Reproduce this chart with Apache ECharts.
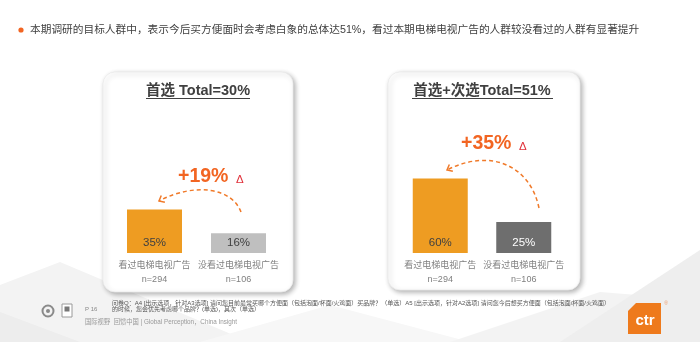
<!DOCTYPE html>
<html>
<head>
<meta charset="utf-8">
<script src="https://cdn.jsdelivr.net/npm/echarts@6/dist/echarts.min.js"></script>
<style>
html,body{margin:0;padding:0;background:#fff;}
#c{width:700px;height:342px;}
</style>
</head>
<body>
<div id="c"></div>
<script>
// ---- data ----
var categories = ['看过电梯电视广告', '没看过电梯电视广告'];
var sampleSizes = [294, 106];
var firstChoice = [35, 16];          // 首选
var firstSecondChoice = [60, 25];    // 首选+次选
var panelTitles = ['首选 Total=30%', '首选+次选Total=51%'];
var headline = '本期调研的目标人群中，表示今后买方便面时会考虑白象的总体达51%，看过本期电梯电视广告的人群较没看过的人群有显著提升';
var footnote1 = '问卷Q：A4 [出示选项，针对A3选项] 请问您目前最常买哪个方便面（包括泡面/杯面/火鸡面）买品牌？（单选）A5 [出示选项，针对A2选项] 请问您今后想买方便面（包括泡面/杯面/火鸡面）';
var footnote2 = '的时候，您会优先考虑哪个品牌？(单选)，其次（单选）';
var footnote3 = '国际视野  回馈中国 | Global Perception，China Insight';
var pageNo = 'P 16';

// ---- styles ----
var FONT = '"Liberation Sans", Arial, "Noto Sans CJK SC", sans-serif';
var ORANGE = '#EE9C22';
var barColors = [[ORANGE, '#BFBFBF'], [ORANGE, '#6E6E6E']];
var labelColors = [['#404040', '#404040'], ['#404040', '#ffffff']];

var chart = echarts.init(document.getElementById('c'), null, {renderer: 'canvas'});

function makeData(vals, p) {
  return vals.map(function (v, i) {
    return {value: v, itemStyle: {color: barColors[p][i]}, label: {color: labelColors[p][i]}};
  });
}

var grids = [
  {left: 112.5, top: 129, width: 168, height: 124},
  {left: 398.5, top: 129, width: 167, height: 124}
];

function xAx(i) {
  return {
    type: 'category', gridIndex: i, data: categories,
    axisLine: {show: false}, axisTick: {show: false},
    axisLabel: {
      interval: 0, margin: 6, fontSize: 9, lineHeight: 13.5, color: '#7F7F7F', fontFamily: FONT,
      formatter: function (v, idx) { return v + '\n' + 'n=' + sampleSizes[idx]; }
    }
  };
}
function yAx(i) {
  return {type: 'value', gridIndex: i, min: 0, max: 100, show: false, splitLine: {show: false}};
}
function ser(i, vals) {
  return {
    type: 'bar', xAxisIndex: i, yAxisIndex: i, barWidth: 55,
    data: makeData(vals, i), silent: true,
    label: {show: true, position: 'insideBottom', distance: 4, fontSize: 11.5, fontFamily: FONT,
      formatter: function (p) { return p.value + '%'; }}
  };
}

// ---- decorative graphics ----
var g = [];
// background facets
g.push({type: 'polygon', z: -10, shape: {points: [[0, 342], [0, 285], [60, 262], [150, 300], [250, 342]]}, style: {fill: '#f3f3f3'}});
g.push({type: 'polygon', z: -10, shape: {points: [[0, 342], [0, 312], [80, 342]]}, style: {fill: '#ededed'}});
g.push({type: 'polygon', z: -10, shape: {points: [[200, 342], [330, 305], [470, 342]]}, style: {fill: '#f7f7f7'}});
g.push({type: 'polygon', z: -10, shape: {points: [[450, 342], [600, 292], [700, 300], [700, 342]]}, style: {fill: '#f3f3f3'}});
g.push({type: 'polygon', z: -10, shape: {points: [[560, 342], [700, 250], [700, 342]]}, style: {fill: '#eeeeee'}});

// header
g.push({type: 'circle', shape: {cx: 21, cy: 30, r: 2.6}, style: {fill: '#F26522'}});
g.push({type: 'text', x: 30, y: 30, style: {text: headline, font: '10.7px ' + FONT, fill: '#404040', verticalAlign: 'middle'}});

// cards
var cards = [{x: 103, y: 72, w: 190, h: 220}, {x: 388, y: 72, w: 192, h: 218}];
cards.forEach(function (c) {
  g.push({type: 'rect', z: -5, shape: {x: c.x, y: c.y, width: c.w, height: c.h, r: 12},
    style: {fill: '#fff', stroke: '#ebebeb', lineWidth: 0.8, shadowBlur: 5, shadowOffsetX: 2, shadowOffsetY: 2, shadowColor: 'rgba(0,0,0,0.3)'}});
});

// panel titles with underline
var titlePos = [{cx: 198, x1: 146, x2: 250}, {cx: 482, x1: 412, x2: 553}];
titlePos.forEach(function (t, i) {
  g.push({type: 'text', x: t.cx, y: 91, style: {text: panelTitles[i], font: 'bold 14.5px ' + FONT, fill: '#404040', align: 'center', verticalAlign: 'middle'}});
  g.push({type: 'line', shape: {x1: t.x1, y1: 98.5, x2: t.x2, y2: 98.5}, style: {stroke: '#404040', lineWidth: 1.2}});
});

// difference annotations
var diffs = [firstChoice[0] - firstChoice[1], firstSecondChoice[0] - firstSecondChoice[1]];
var ann = [
  {tx: 178, ty: 177, dx: 236, dy: 180, p1: [241, 212], c1: [232, 188], c2: [195, 182], p2: [159, 201]},
  {tx: 461, ty: 144, dx: 519, dy: 147, p1: [539, 208], c1: [530, 165], c2: [490, 148], p2: [447, 170]}
];
ann.forEach(function (a, i) {
  g.push({type: 'text', x: a.tx, y: a.ty, style: {text: '+' + diffs[i] + '%', font: 'bold 19.5px ' + FONT, fill: '#F26522', verticalAlign: 'middle'}});
  g.push({type: 'text', x: a.dx, y: a.dy, style: {text: 'Δ', font: '11.5px ' + FONT, fill: '#E0303A', verticalAlign: 'middle'}});
  g.push({type: 'bezierCurve', shape: {x1: a.p1[0], y1: a.p1[1], cpx1: a.c1[0], cpy1: a.c1[1], cpx2: a.c2[0], cpy2: a.c2[1], x2: a.p2[0], y2: a.p2[1]},
    style: {stroke: '#F07A2A', lineWidth: 1.5, lineDash: [4, 3], fill: null}});
  var bx = a.c2[0] - a.p2[0], by = a.c2[1] - a.p2[1];
  var L = Math.sqrt(bx * bx + by * by); bx /= L; by /= L;
  var th = 40 * Math.PI / 180, len = 6;
  var r1 = [a.p2[0] + len * (bx * Math.cos(th) - by * Math.sin(th)), a.p2[1] + len * (bx * Math.sin(th) + by * Math.cos(th))];
  var r2 = [a.p2[0] + len * (bx * Math.cos(-th) - by * Math.sin(-th)), a.p2[1] + len * (bx * Math.sin(-th) + by * Math.cos(-th))];
  g.push({type: 'polyline', shape: {points: [r1, a.p2, r2]}, style: {stroke: '#F07A2A', lineWidth: 1.5, fill: null}});
});

// footer
g.push({type: 'circle', shape: {cx: 48, cy: 311, r: 5.5}, style: {fill: 'none', stroke: '#8a8a8a', lineWidth: 2}});
g.push({type: 'circle', shape: {cx: 48, cy: 311, r: 2}, style: {fill: '#8a8a8a'}});
g.push({type: 'rect', shape: {x: 62, y: 304, width: 10, height: 13}, style: {fill: '#fff', stroke: '#9a9a9a', lineWidth: 1}});
g.push({type: 'rect', shape: {x: 64.5, y: 306.5, width: 5, height: 5}, style: {fill: '#777'}});
g.push({type: 'text', x: 85, y: 309, style: {text: pageNo, font: '6px ' + FONT, fill: '#888', verticalAlign: 'middle'}});
g.push({type: 'text', x: 112, y: 303, style: {text: footnote1, font: '6px ' + FONT, fill: '#555', verticalAlign: 'middle'}});
g.push({type: 'text', x: 112, y: 309.5, style: {text: footnote2, font: '6px ' + FONT, fill: '#555', verticalAlign: 'middle'}});
g.push({type: 'text', x: 85, y: 322, style: {text: footnote3, font: '6.3px ' + FONT, fill: '#999', verticalAlign: 'middle'}});

// ctr logo
g.push({type: 'polygon', shape: {points: [[636, 303], [661, 303], [661, 334], [628, 334], [628, 311]]}, style: {fill: '#EE7A1C'}});
g.push({type: 'text', x: 645, y: 321, style: {text: 'ctr', font: 'bold 15px ' + FONT, fill: '#fff', align: 'center', verticalAlign: 'middle'}});
g.push({type: 'text', x: 666, y: 304, style: {text: '®', font: '5px ' + FONT, fill: '#EE9C6A', align: 'center', verticalAlign: 'middle'}});

chart.setOption({
  backgroundColor: '#ffffff',
  animation: false,
  grid: grids,
  xAxis: [xAx(0), xAx(1)],
  yAxis: [yAx(0), yAx(1)],
  series: [ser(0, firstChoice), ser(1, firstSecondChoice)],
  graphic: g
});
</script>
</body>
</html>
